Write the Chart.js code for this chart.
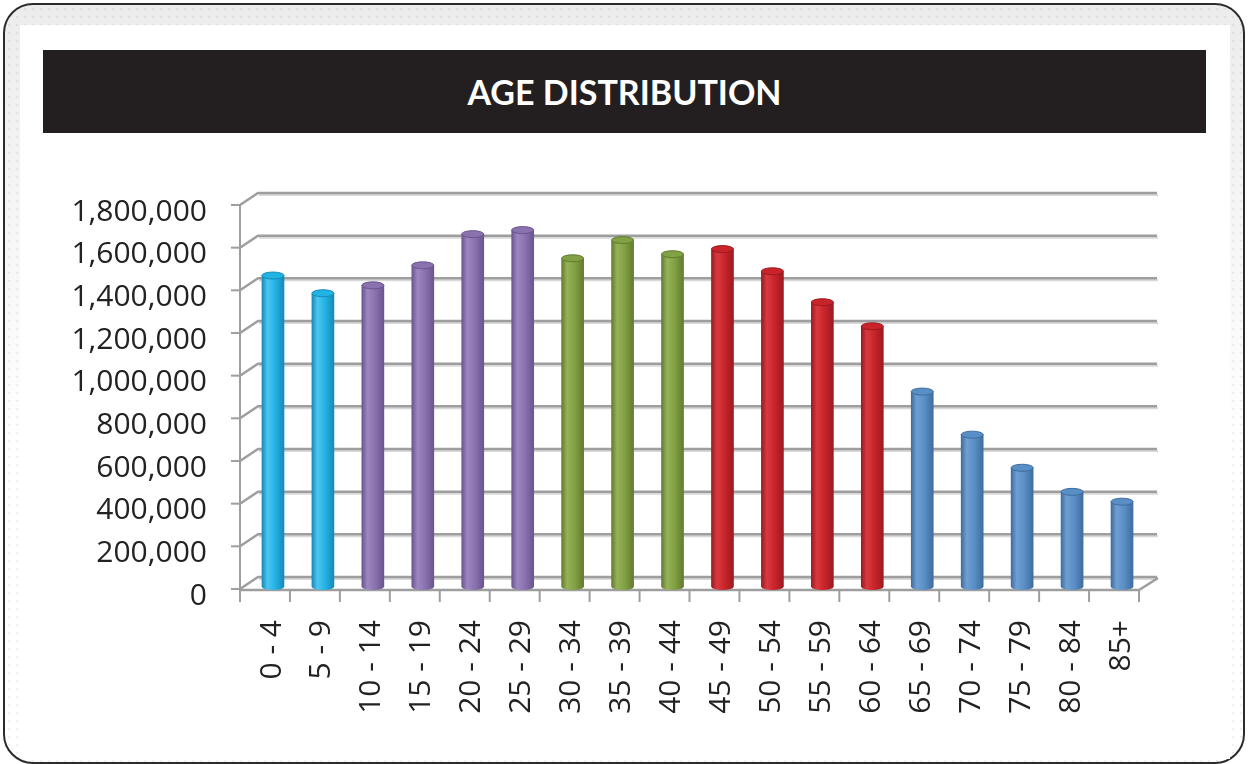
<!DOCTYPE html>
<html>
<head>
<meta charset="utf-8">
<script src="https://cdn.jsdelivr.net/npm/chart.js@4"></script>
<style>
  html, body { margin: 0; padding: 0; background: #fff; }
  .page { position: relative; width: 1248px; height: 764px; overflow: hidden; }
  .frame {
    position: absolute; left: 3px; top: 3px; width: 1238px; height: 757px;
    border: 2px solid #2b2b2b; border-radius: 30px;
    background:
      radial-gradient(circle, rgba(0,0,0,0.06) 1px, transparent 1.5px) 0 0 / 8px 8px,
      linear-gradient(to bottom, #ececec 0%, #f6f6f6 30%, #ffffff 60%);
  }
  .panel { position: absolute; left: 20px; top: 25px; width: 1210px; height: 734px; background: #fff; }
  .title {
    position: absolute; left: 43px; top: 50px; width: 1163px; height: 83px;
    background: #231f20; color: #fff;
    font: bold 34px "Lato", "Open Sans", sans-serif;
    display: flex; align-items: center; justify-content: center;
  }
  #chart { position: absolute; left: 0; top: 0; }
</style>
</head>
<body>
<div class="page">
  <div class="frame"></div>
  <div class="panel"></div>
  <div class="title">AGE DISTRIBUTION</div>
  <canvas id="chart" width="1248" height="764"></canvas>
</div>
<script>
"use strict";

/* =========================================================================
  Data
=========================================================================== */
const AGE_GROUPS = [
  "0 - 4", "5 - 9", "10 - 14", "15 - 19", "20 - 24", "25 - 29",
  "30 - 34", "35 - 39", "40 - 44", "45 - 49", "50 - 54", "55 - 59",
  "60 - 64", "65 - 69", "70 - 74", "75 - 79", "80 - 84", "85+",
];
const POPULATION = [
  1460000, 1377000, 1414000, 1508000, 1654000, 1673000,
  1541000, 1626000, 1560000, 1584000, 1480000, 1335000,
  1222000, 916000, 714000, 559000, 446000, 400000,
];
const BAR_GROUP = [
  "cyan", "cyan", "purple", "purple", "purple", "purple",
  "green", "green", "green", "red", "red", "red",
  "red", "blue", "blue", "blue", "blue", "blue",
];
const Y_MAX = 1800000;
const Y_STEP = 200000;

/* =========================================================================
  Styles
=========================================================================== */
const PALETTE = {
  cyan:   { base: "#22b3e5", light: "#4cc6f0", dark: "#168ab8" },
  purple: { base: "#8a72af", light: "#9c86c0", dark: "#6a558f" },
  green:  { base: "#82a044", light: "#96b258", dark: "#637b2f" },
  red:    { base: "#c8242a", light: "#d83a40", dark: "#9c1a1f" },
  blue:   { base: "#5a8ec6", light: "#6f9fd2", dark: "#3f6d9f" },
};
const BAR_W = 22;
const DEPTH = { dx: 18, dy: -12 };   // back wall offset
const BAR_SHIFT = { dx: 8, dy: -2 }; // bars sit mid-depth
const GRID_COLOR = "#9e9e9e";
const LABEL_FONT = { family: "'Open Sans', sans-serif", size: 30 };

function cylinderGradient(ctx, cx, pal) {
  const g = ctx.createLinearGradient(cx - BAR_W / 2, 0, cx + BAR_W / 2, 0);
  g.addColorStop(0, pal.dark);
  g.addColorStop(0.25, pal.light);
  g.addColorStop(0.6, pal.base);
  g.addColorStop(1, pal.dark);
  return g;
}

function barFill(ctx) {
  const pal = PALETTE[BAR_GROUP[ctx.dataIndex]] || PALETTE.blue;
  const xs = ctx.chart.scales.x;
  if (!xs || !ctx.chart.chartArea || ctx.dataIndex === undefined) return pal.base;
  return cylinderGradient(ctx.chart.ctx, xs.getPixelForValue(ctx.dataIndex), pal);
}

/* =========================================================================
  3D frame + cylinder caps
=========================================================================== */
const frame3d = {
  id: "frame3d",
  beforeDatasetsDraw(chart) {
    const { ctx, chartArea: a, scales } = chart;
    const ys = scales.y;
    const L = a.left, R = a.right, B = a.bottom;
    ctx.save();

    // back wall grid lines with the left-wall diagonal
    for (let v = 0; v <= Y_MAX; v += Y_STEP) {
      const y = ys.getPixelForValue(v);
      ctx.strokeStyle = "#d8d8d8";
      ctx.lineWidth = 2;
      ctx.beginPath();
      ctx.moveTo(L + DEPTH.dx + 1, y + DEPTH.dy + 2);
      ctx.lineTo(R + DEPTH.dx + 1, y + DEPTH.dy + 2);
      ctx.stroke();
      ctx.strokeStyle = GRID_COLOR;
      ctx.lineWidth = 2.5;
      ctx.beginPath();
      ctx.moveTo(L, y);
      ctx.lineTo(L + DEPTH.dx, y + DEPTH.dy);
      ctx.lineTo(R + DEPTH.dx, y + DEPTH.dy);
      ctx.stroke();
      ctx.lineWidth = 2;
      ctx.beginPath();
      ctx.moveTo(L - 9, y);
      ctx.lineTo(L, y);
      ctx.stroke();
    }

    // front vertical axis
    ctx.strokeStyle = GRID_COLOR;
    ctx.lineWidth = 2;
    ctx.beginPath();
    ctx.moveTo(L, a.top);
    ctx.lineTo(L, B + 1);
    ctx.stroke();

    // floor front edge and right diagonal
    ctx.lineWidth = 2.5;
    ctx.beginPath();
    ctx.moveTo(L, B + 1);
    ctx.lineTo(R, B + 1);
    ctx.lineTo(R + DEPTH.dx + 1, B + 1 + DEPTH.dy);
    ctx.stroke();

    // category ticks
    ctx.lineWidth = 2;
    const n = AGE_GROUPS.length;
    for (let i = 0; i <= n; i++) {
      const x = L + (i * (R - L)) / n;
      ctx.beginPath();
      ctx.moveTo(x, B + 1);
      ctx.lineTo(x, B + 13);
      ctx.stroke();
    }
    ctx.restore();

    ctx.save();
    ctx.translate(BAR_SHIFT.dx, BAR_SHIFT.dy);
  },
  afterDatasetsDraw(chart) {
    const { ctx } = chart;
    const meta = chart.getDatasetMeta(0);
    meta.data.forEach((bar, i) => {
      const pal = PALETTE[BAR_GROUP[i]] || PALETTE.blue;
      const { x, y, base } = bar.getProps(["x", "y", "base"], true);
      const rx = BAR_W / 2;
      // rounded bottom
      ctx.fillStyle = cylinderGradient(ctx, x, pal);
      ctx.beginPath();
      ctx.ellipse(x, base, rx, 3, 0, 0, Math.PI);
      ctx.fill();
      // top cap
      ctx.fillStyle = pal.base;
      ctx.strokeStyle = pal.dark;
      ctx.lineWidth = 1;
      ctx.beginPath();
      ctx.ellipse(x, y, rx, 3.5, 0, 0, Math.PI * 2);
      ctx.fill();
      ctx.stroke();
    });
    ctx.restore();
  },
};

/* =========================================================================
  Chart
=========================================================================== */
new Chart(document.getElementById("chart"), {
  type: "bar",
  data: {
    labels: AGE_GROUPS,
    datasets: [
      {
        label: "Population",
        data: POPULATION,
        backgroundColor: barFill,
        borderWidth: 0,
        barThickness: BAR_W,
      },
    ],
  },
  options: {
    responsive: false,
    devicePixelRatio: 1,
    animation: false,
    layout: { padding: { left: 40, top: 205, right: 109, bottom: 0 } },
    plugins: { legend: { display: false }, tooltip: { enabled: false } },
    scales: {
      x: {
        grid: { display: false, drawTicks: false },
        border: { display: false },
        ticks: {
          color: "#222",
          font: LABEL_FONT,
          minRotation: 90,
          maxRotation: 90,
          padding: 31,
          labelOffset: 7,
          autoSkip: false,
        },
        afterFit: (s) => { s.height = 175; },
      },
      y: {
        min: 0,
        max: Y_MAX,
        grid: { display: false, drawTicks: false },
        border: { display: false },
        ticks: {
          stepSize: Y_STEP,
          color: "#222",
          font: LABEL_FONT,
          padding: 33,
          labelOffset: 7,
          callback: (v) => Number(v).toLocaleString("en-US"),
        },
        afterFit: (s) => { s.width = 200; },
      },
    },
  },
  plugins: [frame3d],
});
</script>
</body>
</html>
